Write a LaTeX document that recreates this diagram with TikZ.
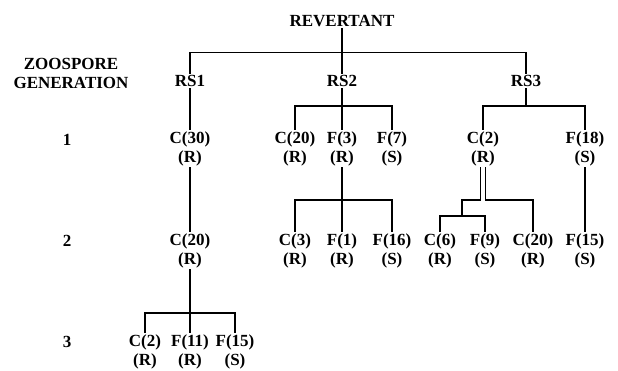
\documentclass[tikz,border=0pt]{standalone}
\usepackage{fontspec}
\setmainfont{Liberation Serif}
\begin{document}
\begin{tikzpicture}[x=1pt,y=-1pt,
  lbl/.style={font=\fontsize{17}{19}\selectfont\bfseries, align=center, inner sep=1.5pt},
  conn/.style={draw=black, line width=1.7pt}]
\useasboundingbox (0,0) rectangle (618,370);
% left column
\node[lbl] (zg) at (71,73.5) {ZOOSPORE\\GENERATION};
\node[lbl] (g1) at (67,140) {1};
\node[lbl] (g2) at (67,241) {2};
\node[lbl] (g3) at (67,342) {3};
% top
\node[lbl] (rev) at (342,21) {REVERTANT};
\node[lbl] (rs1) at (190,81) {RS1};
\node[lbl] (rs2) at (342,81) {RS2};
\node[lbl] (rs3) at (526,81) {RS3};
% generation 1
\node[lbl] (c30)  at (190,148.5) {C(30)\\(R)};
\node[lbl] (c20a) at (295,148.5) {C(20)\\(R)};
\node[lbl] (f3a)  at (342,148.5) {F(3)\\(R)};
\node[lbl] (f7a)  at (392,148.5) {F(7)\\(S)};
\node[lbl] (c2a)  at (483,148.5) {C(2)\\(R)};
\node[lbl] (f18a) at (585,148.5) {F(18)\\(S)};
% generation 2
\node[lbl] (c20b) at (190,250.5) {C(20)\\(R)};
\node[lbl] (c3)   at (295,250.5) {C(3)\\(R)};
\node[lbl] (f1)   at (342,250.5) {F(1)\\(R)};
\node[lbl] (f16)  at (392,250.5) {F(16)\\(S)};
\node[lbl] (c6)   at (440,250.5) {C(6)\\(R)};
\node[lbl] (f9)   at (485,250.5) {F(9)\\(S)};
\node[lbl] (c20c) at (533,250.5) {C(20)\\(R)};
\node[lbl] (f15b) at (585,250.5) {F(15)\\(S)};
% generation 3
\node[lbl] (c2b)  at (145,352) {C(2)\\(R)};
\node[lbl] (f11)  at (190,352) {F(11)\\(R)};
\node[lbl] (f15c) at (235,352) {F(15)\\(S)};
% bar levels
\coordinate (bar0) at (0,52.5);
\coordinate (bar1) at (0,106);
\coordinate (bar2) at (0,200);
\coordinate (jn) at (462,216);
\coordinate (bar3) at (0,313);
% connectors
\draw[conn] (rev.south) -- (rs2.north);
\draw[conn] (rs1.north) -- (rs1.north |- bar0) -- (rs3.north |- bar0) -- (rs3.north);
\draw[conn] (rs1.south) -- (c30.north);
\draw[conn] (rs2.south) -- (f3a.north);
\draw[conn] (c20a.north) |- (f7a.north |- bar1) -- (f7a.north);
\draw[conn] (rs3.south) -- (rs3.south |- bar1);
\draw[conn] (c2a.north) |- (f18a.north |- bar1) -- (f18a.north);
\draw[conn] (c30.south) -- (c20b.north);
\draw[conn] (f3a.south) -- (f1.north);
\draw[conn] (c3.north) |- (f16.north |- bar2) -- (f16.north);
\draw[conn] ([xshift=-2.5pt]c2a.south) |- (jn |- bar2) -- (jn);
\draw[conn] (c6.north) |- (f9.north |- jn) -- (f9.north);
\draw[conn] ([xshift=2.5pt]c2a.south) |- (c20c.north |- bar2) -- (c20c.north);
\draw[conn] (f18a.south) -- (f15b.north);
\draw[conn] (c20b.south) -- (f11.north);
\draw[conn] (c2b.north) |- (f15c.north |- bar3) -- (f15c.north);
\end{tikzpicture}
\end{document}
